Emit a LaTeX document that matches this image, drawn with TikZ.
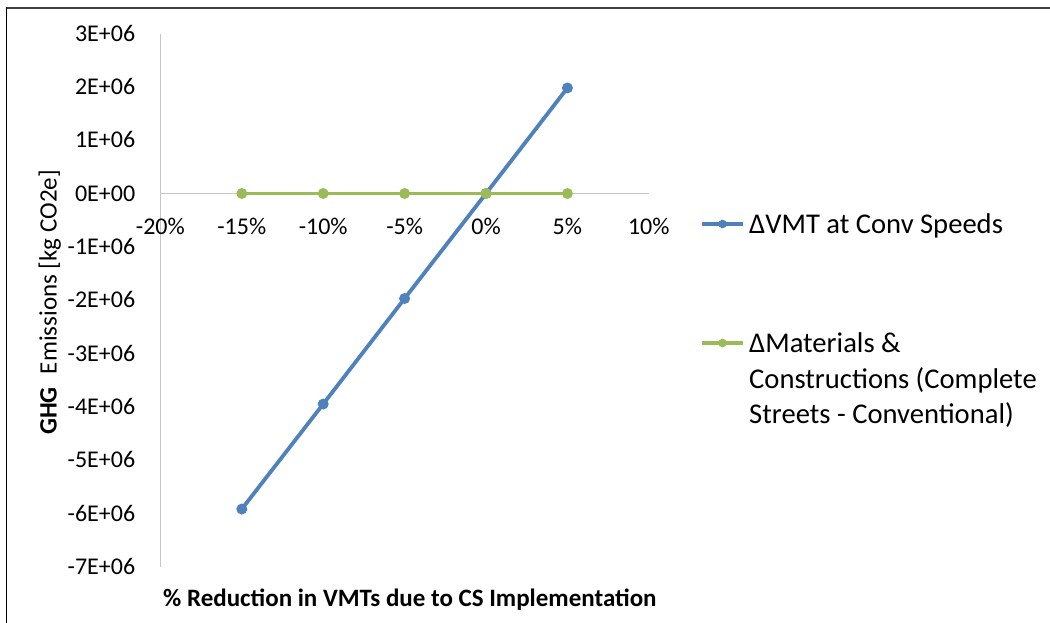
\documentclass[tikz,border=0pt]{standalone}
\usepackage{fontspec}
\setmainfont{Carlito}
\definecolor{serA}{HTML}{4F81BD}
\definecolor{serB}{HTML}{9BBB59}
\definecolor{axisgray}{HTML}{C6C6C6}
\begin{document}
\begin{tikzpicture}[x=1pt,y=-1pt,
  ticklabel/.style={font=\fontsize{24}{28}\selectfont, inner sep=0pt, text=black},
  axistitle/.style={font=\fontsize{25}{30}\selectfont, inner sep=0pt, text=black},
  legendtext/.style={font=\fontsize{28.6}{35.5}\selectfont, inner sep=0pt, text=black},
  axisline/.style={draw=axisgray, line width=1.3pt},
  seriesA/.style={draw=serA, line width=3.8pt, line cap=round, line join=round},
  seriesB/.style={draw=serB, line width=3.8pt, line cap=round, line join=round},
  markA/.style={fill=serA},
  markB/.style={fill=serB}]
\useasboundingbox (0,0) rectangle (1050,623);
\fill[white] (0,0) rectangle (1050,623);

% frame of the chart area
\draw[black!75, line width=2.3pt] (5.8,8) -- (1050,8);
\draw[black, line width=1.4pt] (6.6,7) -- (6.6,623);

% plot area: x in percent, y in millions of kg CO2e
\begin{scope}[shift={(486,193.5)}, x=16.28pt, y=53.3pt]
  \draw[axisline] (-20,3) -- (-20,-7);
  \draw[axisline] (-20,0) -- (10,0);

  \foreach \v/\lab in {3/3E+06, 2/2E+06, 1/1E+06, 0/0E+00, -1/-1E+06, -2/-2E+06, -3/-3E+06, -4/-4E+06, -5/-5E+06, -6/-6E+06, -7/-7E+06}
    \node[ticklabel, anchor=base east, xshift=-25pt, yshift=-7.8pt] (ylab\v) at (-20,\v) {\lab};

  \foreach \p/\lab in {-20/-20\%, -15/-15\%, -10/-10\%, -5/-5\%, 0/0\%, 5/5\%, 10/10\%}
    \node[ticklabel, anchor=base, yshift=-40.8pt] (xlab\p) at (\p,0) {\lab};

  % VMT series
  \coordinate (a1) at (-15,-5.92);
  \coordinate (a2) at (-10,-3.95);
  \coordinate (a3) at (-5,-1.97);
  \coordinate (a4) at (0,0);
  \coordinate (a5) at (5,1.98);
  \draw[seriesA] (a1) -- (a2) -- (a3) -- (a4) -- (a5);
  \foreach \c in {a1,a2,a3,a4,a5} \fill[markA] (\c) circle (5.5pt);

  % materials & construction series
  \coordinate (b1) at (-15,0);
  \coordinate (b2) at (-10,0);
  \coordinate (b3) at (-5,0);
  \coordinate (b4) at (0,0);
  \coordinate (b5) at (5,0);
  \draw[seriesB] (b1) -- (b2) -- (b3) -- (b4) -- (b5);
  \foreach \c in {b1,b2,b3,b4,b5} \fill[markB] (\c) circle (5.5pt);
\end{scope}

% axis titles
\node[axistitle, rotate=90, anchor=base] (ytitle) at (56.5,302.5)
  {\textbf{GHG}\hspace{0.3em} Emissions [kg CO2e]};
\node[axistitle, anchor=base west] (xtitle) at (163,606.7)
  {\textbf{\% Reduction in VMTs due to CS Implementation}};

% legend
\coordinate (la0) at (702,224);
\coordinate (la1) at (743,224);
\draw[seriesA, line cap=butt] (la0) -- (la1);
\fill[markA] (722.5,224) circle (4.3pt);
\node[legendtext, anchor=base west] (legA) at (749,233.3) {ΔVMT at Conv Speeds};

\coordinate (lb0) at (702,343);
\coordinate (lb1) at (743,343);
\draw[seriesB, line cap=butt] (lb0) -- (lb1);
\fill[markB] (722.5,343) circle (4.3pt);
\node[legendtext, anchor=base west] (legB1) at (749,352.3) {ΔMaterials \&};
\node[legendtext, anchor=base west] (legB2) at (749,388) {Constructions (Complete};
\node[legendtext, anchor=base west] (legB3) at (749,423.5) {Streets - Conventional)};
\end{tikzpicture}
\end{document}
